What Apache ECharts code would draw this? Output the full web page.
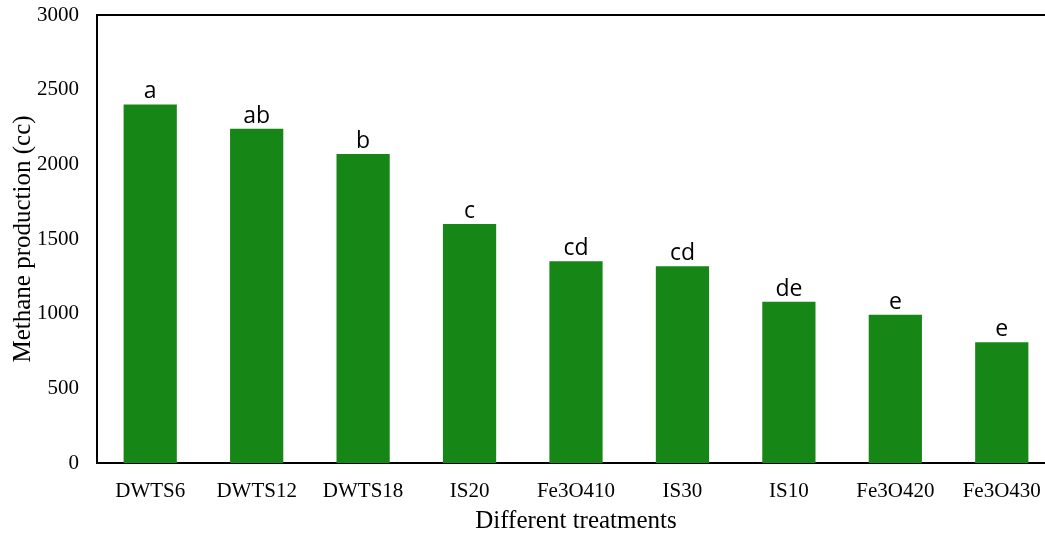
<!DOCTYPE html>
<html>
<head>
<meta charset="utf-8">
<script src="https://cdn.jsdelivr.net/npm/echarts@6/dist/echarts.min.js"></script>
<style>html,body{margin:0;padding:0;background:#fff}#c{width:1045px;height:533px}</style>
</head>
<body>
<div id="c"></div>
<script>
const categories = ['DWTS6','DWTS12','DWTS18','IS20','Fe3O410','IS30','IS10','Fe3O420','Fe3O430'];
const methane = [2401, 2238, 2070, 1600, 1351, 1318, 1080, 993, 808];
const letters = ['a','ab','b','c','cd','cd','de','e','e'];
const yTicks = [0, 500, 1000, 1500, 2000, 2500, 3000];

const chart = echarts.init(document.getElementById('c'), null, {renderer:'canvas'});
chart.setOption({
  animation: false,
  backgroundColor: '#fff',
  grid: {left: 97, top: 15, right: -10, bottom: 70, containLabel: false, outerBoundsMode: 'none',
    show: true, borderColor: '#000', borderWidth: 2, backgroundColor: 'transparent'},
  xAxis: {
    type: 'category', data: categories,
    name: 'Different treatments', nameLocation: 'middle', nameGap: 46, nameMoveOverlap: false,
    nameTextStyle: {fontFamily: 'Liberation Serif', fontSize: 25, color: '#000'},
    axisLine: {lineStyle: {color: '#000', width: 2}},
    axisTick: {show: false},
    axisLabel: {fontFamily: 'Liberation Serif', fontSize: 21, color: '#000', margin: 18}
  },
  yAxis: {
    type: 'value', min: yTicks[0], max: yTicks[yTicks.length-1], interval: 500,
    name: 'Methane production (cc)', nameLocation: 'middle', nameGap: 61, nameMoveOverlap: false,
    nameTextStyle: {fontFamily: 'Liberation Serif', fontSize: 25, color: '#000'},
    axisLine: {show: true, lineStyle: {color: '#000', width: 2}},
    axisTick: {show: false},
    splitLine: {show: false},
    axisLabel: {fontFamily: 'Liberation Serif', fontSize: 21, color: '#000', margin: 18,
      formatter: v => String(v)}
  },
  series: [{
    type: 'bar', data: methane, barWidth: '50%',
    itemStyle: {color: '#168716'},
    label: {show: true, position: 'top', distance: 1, formatter: p => letters[p.dataIndex],
      fontFamily: 'Open Sans', fontSize: 23, color: '#000'}
  }]
});
</script>
</body>
</html>
